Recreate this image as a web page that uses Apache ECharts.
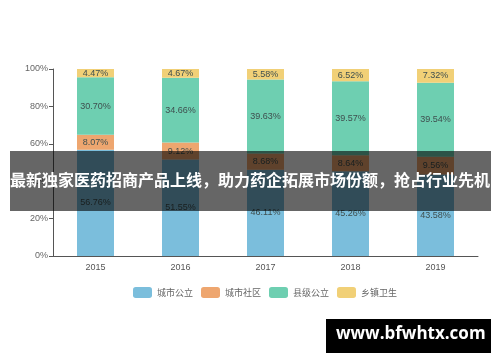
<!DOCTYPE html>
<html><head><meta charset="utf-8">
<script src="https://cdn.jsdelivr.net/npm/echarts@6/dist/echarts.min.js"></script>
<style>html,body{margin:0;padding:0;background:#fff}#c{width:500px;height:362px}</style>
</head><body><div id="c"></div>
<script>
const categories = ['2015','2016','2017','2018','2019'];
const seriesNames = ['城市公立','城市社区','县级公立','乡镇卫生'];
const cityPublic = [56.76, 51.55, 46.11, 45.26, 43.58];
const cityCommunity = [8.07, 9.12, 8.68, 8.64, 9.56];
const countyPublic = [30.70, 34.66, 39.63, 39.57, 39.54];
const townHealth = [4.47, 4.67, 5.58, 6.52, 7.32];
const yTicks = [0, 20, 40, 60, 80, 100];
const bannerText = '最新独家医药招商产品上线，助力药企拓展市场份额，抢占行业先机';
const watermarkText = 'www.bfwhtx.com';

const colors = ['#7bbedc', '#eea66f', '#6ecfb1', '#f1d077'];
const allData = [cityPublic, cityCommunity, countyPublic, townHealth];

const chart = echarts.init(document.getElementById('c'));
chart.setOption({
  animation: false,
  color: colors,
  grid: { left: 53, right: 22, top: 69, bottom: 106 },
  legend: {
    data: seriesNames,
    top: 287,
    left: 133,
    padding: 0,
    itemWidth: 19, itemHeight: 11, itemGap: 8,
    icon: 'roundRect',
    textStyle: { fontSize: 9, color: '#666', fontFamily: 'Noto Sans CJK SC' }
  },
  xAxis: {
    type: 'category',
    data: categories,
    axisLine: { lineStyle: { color: '#555' } },
    axisTick: { lineStyle: { color: '#555' } },
    axisLabel: { fontSize: 9, color: '#555', margin: 7 }
  },
  yAxis: {
    type: 'value',
    min: yTicks[0], max: yTicks[yTicks.length - 1], interval: 20,
    splitLine: { show: false },
    axisLine: { show: true, lineStyle: { color: '#555' } },
    axisTick: { show: true, length: 4, lineStyle: { color: '#555' } },
    axisLabel: { fontSize: 9, color: '#666', formatter: '{value}%', margin: 5 }
  },
  series: seriesNames.map((n, i) => ({
    name: n,
    type: 'bar',
    stack: 'total',
    barWidth: 37,
    data: allData[i],
    label: {
      show: true, position: 'inside', fontSize: 9, color: '#3f4f4f',
      formatter: p => p.value.toFixed(2) + '%'
    }
  })),
  graphic: [
    {
      type: 'rect', left: 10, top: 151, z: 100,
      shape: { width: 481, height: 60 },
      style: { fill: 'rgba(0,0,0,0.6)' }
    },
    {
      type: 'text', left: 'center', top: 172, z: 101,
      style: { text: bannerText, fill: '#fff', font: 'bold 16px "Noto Sans CJK SC"' }
    },
    {
      type: 'rect', left: 326, top: 319, z: 100,
      shape: { width: 165, height: 34 },
      style: { fill: '#000' }
    },
    {
      type: 'text', left: 336, top: 326, z: 101,
      style: { text: watermarkText, fill: '#fff', font: 'bold 17px "Open Sans"' }
    }
  ]
});
</script></body></html>
